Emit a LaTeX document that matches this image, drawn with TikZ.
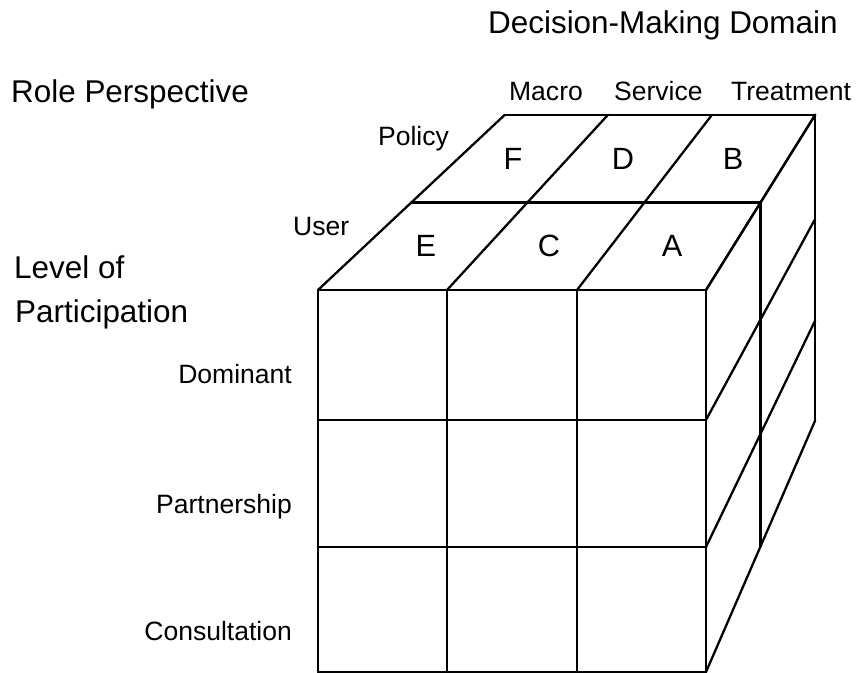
\documentclass[tikz,border=0pt]{standalone}
\usepackage{fontspec}
\setmainfont{Liberation Sans}
\usetikzlibrary{calc}

\begin{document}
\begin{tikzpicture}[x=0.02cm, y=-0.02cm, line width=1.3pt, line cap=round,
    every node/.style={inner sep=0pt},
    heading/.style={font=\fontsize{17.9}{22}\selectfont},
    tag/.style={font=\fontsize{15.1}{18}\selectfont},
    cell/.style={font=\fontsize{17.5}{21}\selectfont}]
  \useasboundingbox (0,0) rectangle (856,673);
  % depth edges all run towards this point
  \coordinate (V) at (1252,-586);
  % front face corners
  \foreach \x [count=\i from 0] in {318,447,577,706}
    \foreach \y [count=\j from 0] in {290,420,547,672}
      \coordinate (f\i\j) at (\x,\y);
  % same corners one and two layers back
  \foreach \i in {0,...,3}
    \foreach \j in {0,...,3} {
      \coordinate (m\i\j) at ($(V)!0.9!(f\i\j)$);
      \coordinate (b\i\j) at ($(V)!0.8!(f\i\j)$);
    }
  % front face
  \foreach \k in {0,...,3} {
    \draw (f\k0) -- (f\k3);
    \draw (f0\k) -- (f3\k);
  }
  % top face
  \foreach \k in {0,...,3}
    \draw (f\k0) -- (m\k0) -- (b\k0);
  \draw (m00) -- (m30);
  \draw (b00) -- (b30);
  % right face
  \foreach \k in {0,...,3}
    \draw (f3\k) -- (m3\k) -- (b3\k);
  \draw (m30) -- (m33);
  \draw (b30) -- (b33);

  % letters in the top cells
  \foreach \i/\n in {0/1,1/2,2/3}
    \coordinate (t\i) at ($(f\i0)!0.5!(f\n0)$);
  \foreach \lab/\i/\s in {E/0/0.95, C/1/0.95, A/2/0.95, F/0/0.85, D/1/0.85, B/2/0.85}
    \node[cell] (cell\lab) at ($(V)!\s!(t\i)$) {\lab};

  % axis titles
  \node[heading, anchor=base west] (domain) at (487,33) {Decision-Making Domain};
  \node[heading, anchor=base west] (role) at (10,102) {Role Perspective};
  \node[heading, anchor=base west] (level) at (13,278) {Level of};
  \node[heading, anchor=base west] (participation) at (14,322) {Participation};

  % column, layer and row names
  \node[tag, anchor=base west] (macro) at (508,100) {Macro};
  \node[tag, anchor=base west] (service) at (613,100) {Service};
  \node[tag, anchor=base west] (treatment) at (730,100) {Treatment};
  \node[tag, anchor=base west] (policy) at (377,145) {Policy};
  \node[tag, anchor=base west] (user) at (292,235) {User};
  \node[tag, anchor=base east] (dominant) at (293,383) {Dominant};
  \node[tag, anchor=base east] (partnership) at (293,513) {Partnership};
  \node[tag, anchor=base east] (consultation) at (293,640) {Consultation};
\end{tikzpicture}
\end{document}
